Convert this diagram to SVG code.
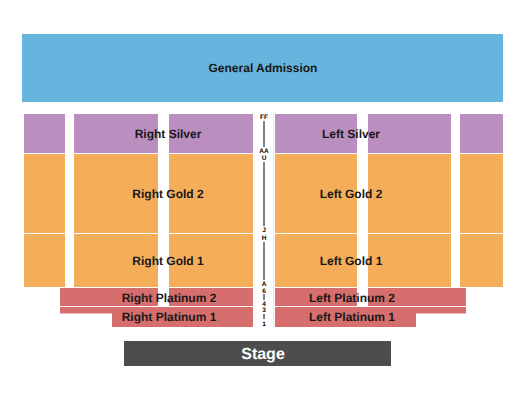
<svg xmlns="http://www.w3.org/2000/svg" width="525" height="400" viewBox="0 0 525 400">
<style>
text{font-family:"Liberation Sans",Arial,sans-serif;font-weight:bold;text-anchor:middle;fill:#1a1718;text-rendering:geometricPrecision;opacity:.999}
.l{font-size:12px}
#rows text{font-size:6.500px;fill:#000}
.ga{fill:#66b5de}.si{fill:#bb8ec0}.go{fill:#f4ae59}.pl{fill:#d66e6e}.st{fill:#4d4d4d}
.rl{stroke:#000;stroke-width:1;fill:none}
</style>
<rect width="525" height="400" fill="#fff"/>
<g id="general-admission"><rect class="ga" x="22" y="34" width="481" height="68"/><text class="l" x="263" y="72">General Admission</text></g>
<g id="right-silver"><path class="si" d="M24 114h41v39h-41zM74 114h84v39h-84zM169 114h84v39h-84z"/><text class="l" x="168" y="138">Right Silver</text></g>
<g id="left-silver"><path class="si" d="M275 114h82v39h-82zM368 114h83v39h-83zM460 114h43v39h-43z"/><text class="l" x="351" y="138">Left Silver</text></g>
<g id="right-gold-2"><path class="go" d="M24 154h41v79h-41zM74 154h84v79h-84zM169 154h84v79h-84z"/><text class="l" x="168" y="198">Right Gold 2</text></g>
<g id="left-gold-2"><path class="go" d="M275 154h82v79h-82zM368 154h83v79h-83zM460 154h43v79h-43z"/><text class="l" x="351" y="198">Left Gold 2</text></g>
<g id="right-gold-1"><path class="go" d="M24 234h41v53h-41zM74 234h84v53h-84zM169 234h84v53h-84z"/><text class="l" x="168" y="265">Right Gold 1</text></g>
<g id="left-gold-1"><path class="go" d="M275 234h82v53h-82zM368 234h83v53h-83zM460 234h43v53h-43z"/><text class="l" x="351" y="265">Left Gold 1</text></g>
<g id="right-platinum-2"><path class="pl" d="M60 288h98v18h-98zM169 288h84v18h-84z"/><text class="l" x="169" y="302">Right Platinum 2</text></g>
<g id="left-platinum-2"><path class="pl" d="M275 288h82v18h-82zM368 288h98v18h-98z"/><text class="l" x="352" y="302">Left Platinum 2</text></g>
<g id="right-platinum-1"><path class="pl" d="M60 307h193v20h-141v-13.500h-52z"/><text class="l" x="169" y="321">Right Platinum 1</text></g>
<g id="left-platinum-1"><path class="pl" d="M275 307h191v6.500h-50v13.500h-141z"/><text class="l" x="352" y="321">Left Platinum 1</text></g>
<g id="stage"><rect class="st" x="124" y="341" width="267" height="25"/><text x="263" y="359" font-size="16" style="fill:#fff">Stage</text></g>
<g id="rows">
<path d="M273.500 113V327" stroke="#e8e8e8" stroke-width="1" fill="none"/>
<path class="rl" d="M264 121V147M264 162V226M264 242V280M264 294V300M264 314V319"/>
<text x="264" y="119">FF</text>
<text x="264" y="153">AA</text>
<text x="264" y="160">U</text>
<text x="264" y="232">J</text>
<text x="264" y="240">H</text>
<text x="264" y="286">A</text>
<text x="264" y="293">6</text>
<text x="264" y="306">4</text>
<text x="264" y="312">3</text>
<text x="264" y="326">1</text>
</g>
</svg>
